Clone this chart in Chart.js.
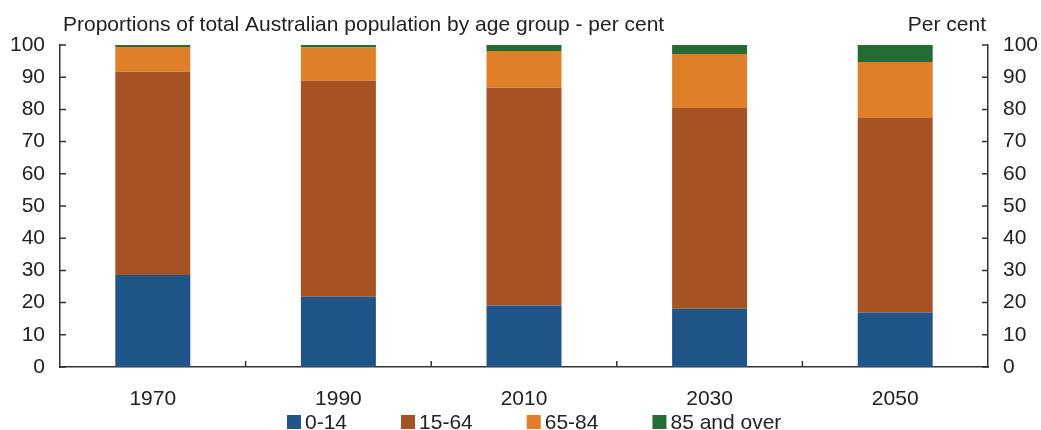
<!DOCTYPE html>
<html>
<head>
<meta charset="utf-8">
<script src="https://cdn.jsdelivr.net/npm/chart.js@4/dist/chart.umd.min.js"></script>
<style>
  html, body { margin: 0; padding: 0; background: #fff; }
  #wrap { width: 1041px; height: 430px; }
</style>
</head>
<body>
<div id="wrap"><canvas id="ageChart" width="1041" height="430"></canvas></div>
<script>
/* ── data ── */
const years     = ['1970', '1990', '2010', '2030', '2050'];
const age0to14  = [28.6, 21.8, 19.1, 18.1, 16.9];
const age15to64 = [63.1, 67.1, 67.6, 62.3, 60.4];
const age65to84 = [7.7, 10.3, 11.4, 16.8, 17.4];
const age85plus = [0.6, 0.8, 1.9, 2.8, 5.3];
const yTicks    = [0, 10, 20, 30, 40, 50, 60, 70, 80, 90, 100];

const FONT  = '"Liberation Sans", Arial, sans-serif';
const FSIZE = 21;
const INK   = '#222';
const AXIS  = '#333';

/* titres, petites graduations et légende */
const decor = {
  id: 'decor',
  afterDraw(chart) {
    const { ctx, chartArea: a } = chart;
    const y  = chart.scales.y;
    const x  = chart.scales.x;
    ctx.save();
    ctx.strokeStyle = AXIS;
    ctx.lineWidth   = 1.5;
    ctx.beginPath();
    yTicks.forEach(v => {
      const py = y.getPixelForValue(v);
      ctx.moveTo(a.left, py);  ctx.lineTo(a.left + 6, py);
      ctx.moveTo(a.right, py); ctx.lineTo(a.right - 6, py);
    });
    for (let i = 1; i < years.length; i++) {
      const px = (x.getPixelForValue(i - 1) + x.getPixelForValue(i)) / 2;
      ctx.moveTo(px, a.bottom); ctx.lineTo(px, a.bottom - 6);
    }
    ctx.stroke();

    ctx.fillStyle    = INK;
    ctx.font         = FSIZE + 'px ' + FONT;
    ctx.textBaseline = 'middle';
    ctx.textAlign    = 'left';
    ctx.fillText('Proportions of total Australian population by age group - per cent', 63, 25);
    ctx.textAlign = 'right';
    ctx.fillText('Per cent', 986, 25);

    /* légende */
    let lx = 287;
    const ly = 422;
    ctx.textAlign = 'left';
    chart.data.datasets.forEach(ds => {
      ctx.fillStyle = ds.backgroundColor;
      ctx.fillRect(lx, ly - 7, 14, 14);
      ctx.fillStyle = INK;
      ctx.fillText(ds.label, lx + 18, ly + 1);
      lx += 18 + ctx.measureText(ds.label).width + 54;
    });
    ctx.restore();
  }
};

const barOpts = { barPercentage: 1, categoryPercentage: 0.404, borderWidth: 0 };

new Chart(document.getElementById('ageChart'), {
  type: 'bar',
  data: {
    labels: years,
    datasets: [
      { label: '0-14',        data: age0to14,  backgroundColor: '#20558A', ...barOpts },
      { label: '15-64',       data: age15to64, backgroundColor: '#A65223', ...barOpts },
      { label: '65-84',       data: age65to84, backgroundColor: '#E07F28', ...barOpts },
      { label: '85 and over', data: age85plus, backgroundColor: '#246B35', ...barOpts },
    ],
  },
  options: {
    responsive: false,
    animation : false,
    layout    : { padding: { top: 45, left: 0, right: 0, bottom: 0 } },
    plugins   : { legend: { display: false }, tooltip: { enabled: false } },
    scales: {
      x: {
        stacked: true,
        grid   : { display: false, drawTicks: false },
        border : { display: true, color: AXIS, width: 1.5 },
        ticks  : { color: INK, font: { family: FONT, size: FSIZE }, padding: 20 },
        afterFit: s => { s.height = 63; },
      },
      y: {
        stacked : true,
        position: 'left',
        min: 0, max: 100,
        grid  : { display: false, drawTicks: false },
        border: { display: true, color: AXIS, width: 1.5 },
        ticks : { stepSize: 10, color: INK, font: { family: FONT, size: FSIZE }, padding: 15 },
        afterFit: s => { s.width = 60; },
      },
      y2: {
        position: 'right',
        min: 0, max: 100,
        grid  : { display: false, drawTicks: false },
        border: { display: true, color: AXIS, width: 1.5 },
        ticks : { stepSize: 10, color: INK, font: { family: FONT, size: FSIZE }, padding: 15 },
        afterFit: s => { s.width = 53; },
      },
    },
  },
  plugins: [decor],
});
</script>
</body>
</html>
